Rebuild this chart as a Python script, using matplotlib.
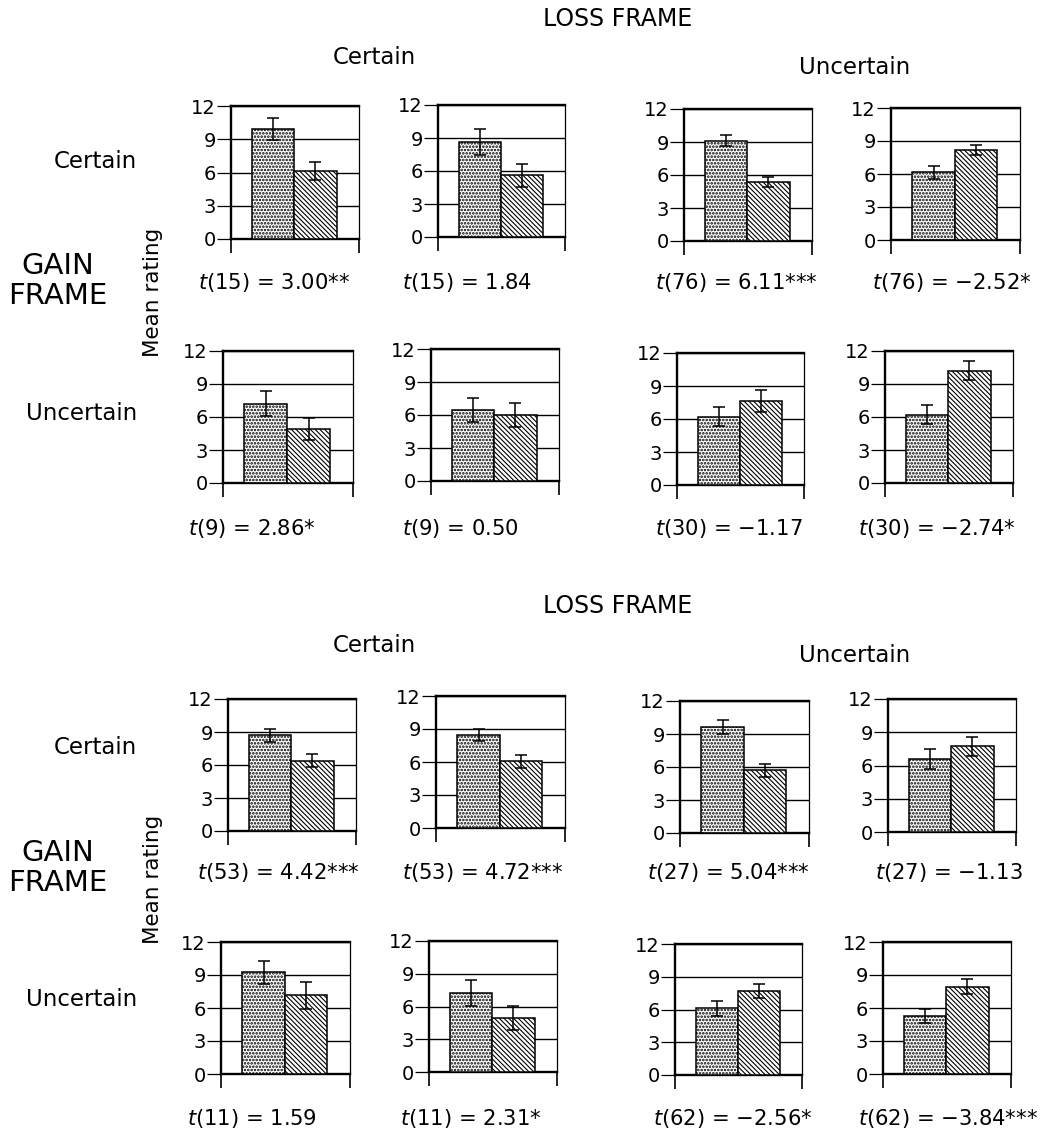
import matplotlib
matplotlib.use('Agg')
import matplotlib.pyplot as plt

# ---------------- data ----------------
dotted_means = [9.9, 8.65, 9.1, 6.15, 7.2, 6.45, 6.2, 6.2,
                8.7, 8.45, 9.65, 6.6, 9.25, 7.25, 6.1, 5.25]
dotted_err = [1.0, 1.15, 0.5, 0.6, 1.15, 1.1, 0.85, 0.85,
              0.6, 0.55, 0.65, 0.9, 1.05, 1.2, 0.7, 0.65]
hatched_means = [6.15, 5.6, 5.4, 8.2, 4.9, 6.0, 7.6, 10.2,
                 6.4, 6.05, 5.7, 7.75, 7.15, 4.95, 7.7, 7.95]
hatched_err = [0.8, 1.05, 0.45, 0.45, 1.0, 1.1, 1.0, 0.85,
               0.6, 0.55, 0.6, 0.85, 1.2, 1.1, 0.65, 0.65]
t_df = [15, 15, 76, 76, 9, 9, 30, 30, 53, 53, 27, 27, 11, 11, 62, 62]
t_stat = ["3.00**", "1.84", "6.11***", "\u22122.52*",
          "2.86*", "0.50", "\u22121.17", "\u22122.74*",
          "4.42***", "4.72***", "5.04***", "\u22121.13",
          "1.59", "2.31*", "\u22122.56*", "\u22123.84***"]
y_ticks = [0, 3, 6, 9, 12]
y_ticklabels = ["0", "3", "6", "9", "12"]
frame_title = "LOSS FRAME"
row_title = "GAIN\nFRAME"
level_labels = ["Certain", "Uncertain"]
y_label = "Mean rating"

# ---------------- layout (pixels) ----------------
W, H = 1040, 1138
panel_px = [  # left, right, top(12), zero
    (231, 359, 106, 239), (438, 565, 105, 237), (684, 812, 109, 241), (891, 1020, 108, 240),
    (223, 353, 351, 483), (431, 559, 349, 481), (677, 804, 353, 485), (885, 1013, 351, 483),
    (228, 356, 699, 831), (436, 565, 696, 828), (680, 809, 701, 833), (888, 1016, 699, 832),
    (221, 350, 942, 1074), (429, 557, 941, 1072), (675, 802, 944, 1075), (883, 1011, 942, 1074),
]
tlabel_left = [198, 402, 655, 872, 188, 402, 655, 858,
               197, 402, 647, 875, 187, 400, 653, 858]
tlabel_y = [282, 282, 282, 282, 529, 529, 529, 529,
            872, 872, 872, 872, 1118, 1118, 1118, 1118]

plt.rcParams['font.family'] = ['DejaVu Sans']

fig = plt.figure(figsize=(W / 100, H / 100), dpi=100)


def fx(x):
    return x / W


def fy(y):
    return 1 - y / H


bar_x = [0.33, 0.66]
bw = 0.33

for i in range(16):
    L, R, T, Z = panel_px[i]
    ax = fig.add_axes([L / W, 1 - Z / H, (R - L) / W, (Z - T) / H])
    ax.set_xlim(0, 1)
    ax.set_ylim(0, 12)
    with plt.rc_context({'hatch.linewidth': 1.25}):
        ax.bar(bar_x[0], dotted_means[i], width=bw, color='white', edgecolor='black',
               hatch='.....', linewidth=1.1, zorder=3)
    with plt.rc_context({'hatch.linewidth': 0.8}):
        ax.bar(bar_x[1], hatched_means[i], width=bw, color='white', edgecolor='black',
               hatch='\\\\\\\\\\\\\\', linewidth=1.1, zorder=3)
    ax.errorbar(bar_x, [dotted_means[i], hatched_means[i]],
                yerr=[dotted_err[i], hatched_err[i]], fmt='none', ecolor='black',
                elinewidth=1.1, capsize=4, capthick=1.1, zorder=4)
    ax.set_yticks(y_ticks)
    ax.set_yticklabels(y_ticklabels)
    ax.set_xticks([0, 1])
    ax.set_xticklabels([])
    ax.yaxis.grid(True, color='black', linewidth=1.0)
    ax.set_axisbelow(True)
    for s in ('left', 'top', 'bottom'):
        ax.spines[s].set_linewidth(1.7)
    ax.spines['right'].set_linewidth(0.9)
    ax.tick_params(axis='y', length=10, width=0.9, direction='out', pad=1,
                   labelsize=14)
    ax.tick_params(axis='x', length=10, width=1.2, direction='out')
    fig.text(fx(tlabel_left[i]), fy(tlabel_y[i]),
             r'$t$(%d) = %s' % (t_df[i], t_stat[i]),
             ha='left', va='center', fontsize=15.2)

# section labels
for off in (0, 587):
    fig.text(fx(618), fy(19 + off), frame_title, ha='center', va='center', fontsize=17)
    fig.text(fx(374), fy(58 + off), level_labels[0], ha='center', va='center', fontsize=16.5)
    fig.text(fx(855), fy(68 + off), level_labels[1], ha='center', va='center', fontsize=16.5)
    fig.text(fx(137), fy(161 + off), level_labels[0], ha='right', va='center', fontsize=16.5)
    fig.text(fx(137), fy(413 + off), level_labels[1], ha='right', va='center', fontsize=16.5)
    fig.text(fx(58), fy(281 + off), row_title, ha='center', va='center', fontsize=21,
             linespacing=1.12)
    fig.text(fx(153), fy(292 + off), y_label, ha='center', va='center', fontsize=15.5,
             rotation=90)

fig.savefig('out.png', dpi=100)
